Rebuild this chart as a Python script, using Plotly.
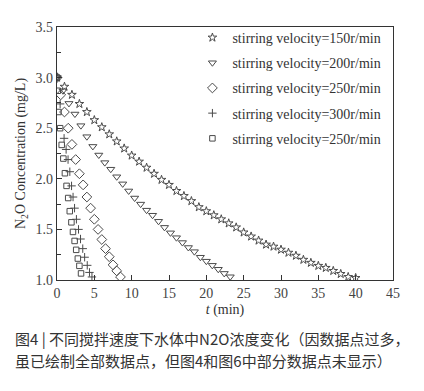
import plotly.graph_objects as go

# ---- data ----
t_150 = [0] + list(range(1, 41))
c_150 = [3.00, 2.91, 2.83, 2.74, 2.66, 2.58, 2.51, 2.44, 2.37, 2.30, 2.23,
         2.17, 2.11, 2.05, 1.99, 1.94, 1.88, 1.83, 1.78, 1.72, 1.68,
         1.64, 1.60, 1.56, 1.52, 1.47, 1.43, 1.39, 1.35, 1.33, 1.30,
         1.27, 1.24, 1.20, 1.17, 1.14, 1.12, 1.09, 1.06, 1.03, 1.02]

t_200 = [0, 0.8, 1.6, 2.4, 3.2, 4.0, 4.8, 5.6, 6.4, 7.2, 8.0, 8.8, 9.6, 10.4,
         11.2, 12.0, 12.8, 13.6, 14.4, 15.2, 16.0, 16.8, 17.6, 18.4, 19.2,
         20.0, 20.8, 21.6, 22.4, 23.2]
c_200 = [3.00, 2.87, 2.745, 2.64, 2.525, 2.416, 2.32, 2.235, 2.16, 2.095,
         2.02, 1.95, 1.88, 1.81, 1.75, 1.69, 1.64, 1.58, 1.52, 1.466,
         1.418, 1.37, 1.321, 1.28, 1.225, 1.186, 1.145, 1.106, 1.065, 1.032]

t_250 = [0, 0.5, 1.0, 1.5, 2.0, 2.5, 3.0, 3.5, 4.0, 4.5, 5.0, 5.5, 6.0, 6.5,
         7.0, 7.5, 8.0, 8.5]
c_250 = [3.00, 2.83, 2.66, 2.50, 2.34, 2.19, 2.05, 1.94, 1.82, 1.71, 1.60,
         1.50, 1.40, 1.31, 1.23, 1.15, 1.09, 1.03]

t_300 = [0, 0.42, 0.95, 1.22, 1.48, 1.72, 1.95, 2.15, 2.35, 2.6, 2.88, 3.15,
         3.45, 3.7, 4.05, 4.35, 4.68]
c_300 = [3.00, 2.74, 2.40, 2.29, 2.19, 2.07, 1.93, 1.82, 1.71, 1.60, 1.50,
         1.405, 1.31, 1.225, 1.145, 1.075, 1.03]

t_sq = [0, 0.1, 0.2, 0.42, 0.63, 0.85, 1.06, 1.28, 1.5, 1.71, 1.93, 2.14,
        2.36, 2.57, 2.79, 3.0, 3.22]
c_sq = [3.00, 2.87, 2.66, 2.50, 2.335, 2.20, 2.055, 1.93, 1.81, 1.68, 1.57,
        1.475, 1.386, 1.298, 1.212, 1.14, 1.065]

names = ["stirring velocity=150r/min", "stirring velocity=200r/min",
         "stirring velocity=250r/min", "stirring velocity=300r/min",
         "stirring velocity=250r/min"]

caption1 = "图4 | 不同搅拌速度下水体中N2O浓度变化（因数据点过多，"
caption2 = "虽已绘制全部数据点，但图4和图6中部分数据点未显示）"

# ---- figure ----
col = "#4a4a4a"
series = [
    (t_150, c_150, "star-open", 6.5),
    (t_200, c_200, "triangle-down-open", 7),
    (t_250, c_250, "diamond-open", 7.5),
    (t_300, c_300, "cross-thin-open", 6),
    (t_sq, c_sq, "square-open", 5.5),
]

fig = go.Figure()
for i, ((tx, cy, sym, sz), nm) in enumerate(zip(series, names)):
    fig.add_trace(go.Scatter(
        x=tx, y=cy, mode="markers", name=nm, legendgroup=f"g{i}",
        marker=dict(symbol=sym, size=sz, color=col,
                    line=dict(width=1, color=col)),
    ))

serif = "Liberation Serif, Times New Roman, serif"
axis_common = dict(
    showline=True, linecolor="#333", linewidth=1.3, mirror=True,
    ticks="inside", ticklen=5, tickcolor="#333", tickwidth=1,
    showgrid=False, zeroline=False,
    tickfont=dict(family=serif, size=14, color="#444"),
)

fig.update_xaxes(range=[0, 45], dtick=5, tick0=0,
                 title=dict(text="<i>t</i> (min)", standoff=4,
                            font=dict(family=serif, size=14, color="#333")),
                 **axis_common)
fig.update_yaxes(range=[1.0, 3.5], dtick=0.5, tick0=1.0, tickformat=".1f",
                 minor=dict(dtick=0.25, ticks="inside", ticklen=4,
                            tickcolor="#333"),
                 title=dict(text="N<sub>2</sub>O Concentration (mg/L)", standoff=6,
                            font=dict(family=serif, size=14, color="#333")),
                 **axis_common)

fig.update_layout(
    width=416, height=383,
    margin=dict(l=45, r=31, t=13, b=111),
    paper_bgcolor="white", plot_bgcolor="white",
    showlegend=True,
    legend=dict(x=0.403, y=1.02, xanchor="left", yanchor="top",
                bgcolor="rgba(0,0,0,0)", borderwidth=0,
                font=dict(family=serif, size=14, color="#333"),
                tracegroupgap=4, traceorder="grouped"),
    annotations=[
        dict(text=caption1, xref="paper", yref="paper", x=-0.132, y=-0.232,
             xanchor="left", yanchor="middle", showarrow=False,
             font=dict(family="Noto Sans CJK SC", size=15, color="#333")),
        dict(text=caption2, xref="paper", yref="paper", x=-0.132, y=-0.317,
             xanchor="left", yanchor="middle", showarrow=False,
             font=dict(family="Noto Sans CJK SC", size=15, color="#333")),
    ],
)

fig.write_html("out.html")
